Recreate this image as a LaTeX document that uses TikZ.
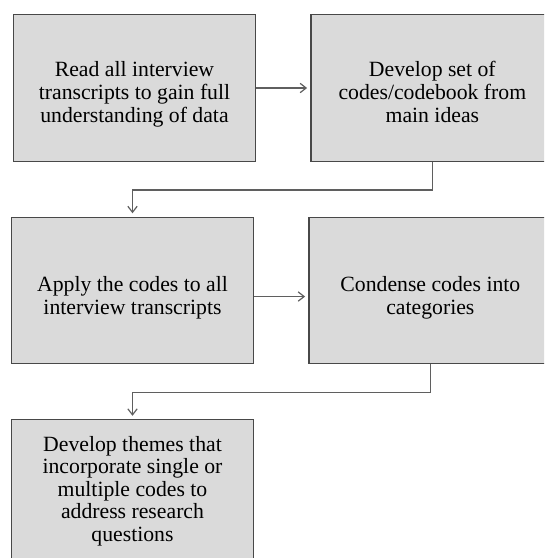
\documentclass[tikz,border=0pt]{standalone}
\usepackage{fontspec}
\setmainfont{Liberation Serif}
\usepackage{tikz}
\usetikzlibrary{arrows.meta, positioning}
\definecolor{boxfill}{RGB}{218,218,218}
\definecolor{boxline}{RGB}{72,72,72}
\definecolor{linkline}{RGB}{95,95,95}
% text block set a little below the middle of its box
\newcommand{\stagetext}[2][-5pt]{\raisebox{#1}[\height][\depth]{\begin{tabular}{@{}c@{}}#2\end{tabular}}}
\tikzstyle{stage} = [rectangle, minimum width=182pt, minimum height=110pt, text centered, draw=boxline, line width=0.9pt, fill=boxfill, font=\fontsize{16.3}{17.1}\selectfont]
\tikzstyle{arrow} = [draw=linkline, line width=0.9pt, -{Straight Barb[length=4.5pt,width=7pt]}, shorten >=2.5pt]

\begin{document}
\begin{tikzpicture}[x=0.75pt, y=-0.75pt, node distance=41pt and 40.5pt]
\useasboundingbox (0,0) rectangle (544,558);
\clip (0,0) rectangle (544,558);
\node (read) [stage] at (134.5,88) {\stagetext{Read all interview\\transcripts to gain full\\understanding of data}};
\node (codebook) [stage, right=of read] {\stagetext{Develop set of\\codes/codebook from\\main ideas}};
\node (apply) [stage, below=of read, xshift=-1.5pt] {\stagetext[-6pt]{Apply the codes to all\\interview transcripts}};
\node (condense) [stage, right=of apply] {\stagetext[-6pt]{Condense codes into\\categories}};
\node (themes) [stage, below=of apply, font=\fontsize{16.3}{16.9}\selectfont] {\stagetext[1pt]{Develop themes that\\incorporate single or\\multiple codes to\\address research\\questions}};

\draw [arrow] (read) -- (codebook);
\draw [arrow] (codebook.south) -- ++(0,-21pt) -| (apply.north);
\draw [arrow] ([yshift=-4.5pt]apply.east) -- ([yshift=-4.5pt]apply.east -| condense.west);
\draw [arrow] (condense.south) -- ++(0,-21pt) -| (themes.north);
\end{tikzpicture}
\end{document}
